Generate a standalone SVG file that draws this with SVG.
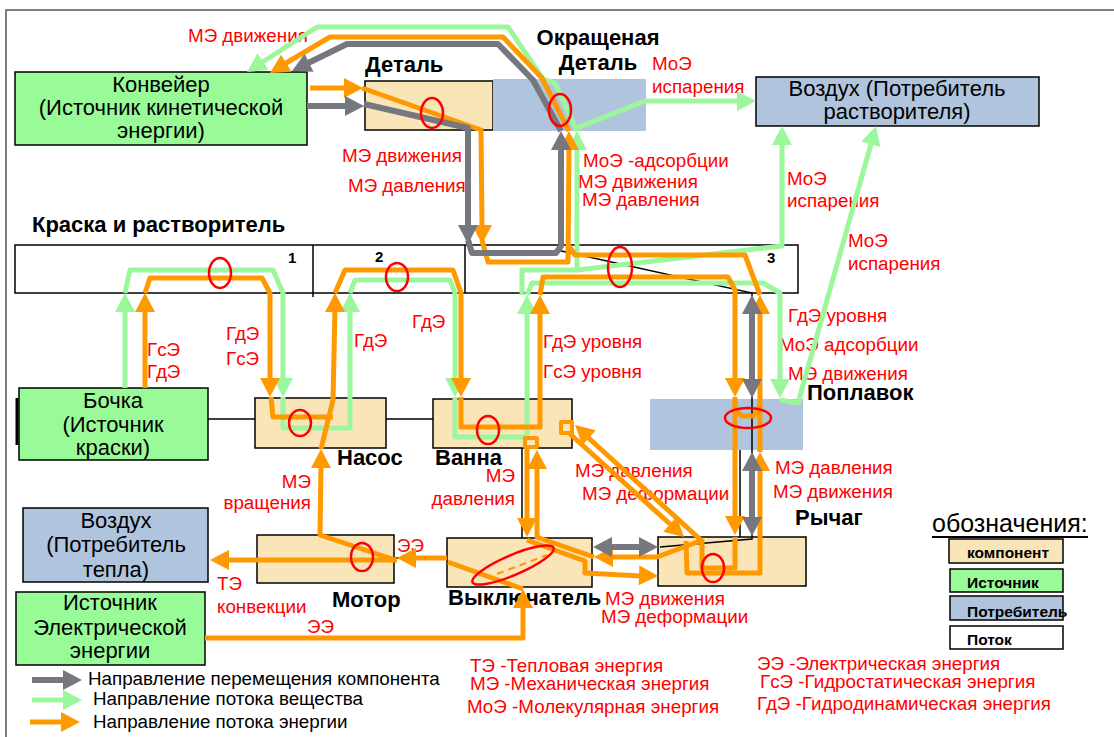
<svg xmlns="http://www.w3.org/2000/svg" width="1114" height="737" viewBox="0 0 1114 737">
<defs>
<style>
text{font-family:"Liberation Sans",Arial,sans-serif}
.nt{font-size:22px;fill:#000;text-anchor:middle}
.b{font-size:22px;font-weight:bold;fill:#000}
.bc{font-size:22px;font-weight:bold;fill:#000;text-anchor:middle}
.num{font-size:15px;font-weight:bold;fill:#000}
.r{font-size:18.8px;fill:#f00}
.re{font-size:18.8px;fill:#f00;text-anchor:end}
.lg{font-size:18.8px;fill:#000}
.lb{font-size:15.5px;font-weight:bold;fill:#000}
.comp{fill:#F9E5B8;stroke:#000;stroke-width:1.5}
.src{fill:#98FB98;stroke:#000;stroke-width:1.5}
.cons{fill:#B0C4DE;stroke:#000;stroke-width:1.5}
.flow{fill:#fff;stroke:#000;stroke-width:1.5}
.o{fill:none;stroke:#FF9900;stroke-width:5;stroke-linejoin:round}
.g{fill:none;stroke:#9CF79C;stroke-width:5;stroke-linejoin:round}
.k{fill:none;stroke:#77777F;stroke-width:6;stroke-linejoin:round}
.thin{fill:none;stroke:#000;stroke-width:1.5}
.oh{fill:#FF9900}
.gh{fill:#9CF79C}
.kh{fill:#77777F}
.el{fill:none;stroke:#f00;stroke-width:2.5}
</style>
<path id="ah" d="M0,0 L-19,-10 L-19,10 Z"/>
</defs>
<rect x="0" y="0" width="1114" height="737" fill="#fff"/>
<rect x="6" y="10" width="1130" height="750" fill="none" stroke="#555" stroke-width="1.5"/>

<g id="nodes">
<g id="konveyer"><rect class="src" x="15" y="72" width="292" height="73"/><text class="nt" x="161" y="92">Конвейер</text><text class="nt" x="161" y="115">(Источник кинетической</text><text class="nt" x="161" y="138">энергии)</text></g>
<g id="detal"><rect class="comp" x="365" y="81" width="128" height="49"/><text class="b" x="365" y="72">Деталь</text></g>
<g id="okr-detal"><rect x="493" y="79" width="153" height="52" fill="#B0C4DE"/><text class="bc" x="598" y="45">Окращеная</text><text class="bc" x="598" y="70">Деталь</text></g>
<g id="vozduh-rastv"><rect class="cons" x="756" y="77" width="283" height="49"/><text class="nt" x="897" y="96">Воздух (Потребитель</text><text class="nt" x="897" y="119">растворителя)</text></g>
<g id="tank"><text class="b" x="32" y="232">Краска и растворитель</text><rect class="flow" x="15" y="245" width="783" height="48"/><line class="thin" x1="313" y1="245" x2="313" y2="297"/><line class="thin" x1="465" y1="245" x2="465" y2="293"/><text class="num" x="288" y="263">1</text><text class="num" x="375" y="262">2</text><text class="num" x="767" y="263">3</text></g>
<g id="bochka"><line x1="17" y1="398" x2="17" y2="445" stroke="#000" stroke-width="3"/><rect class="src" x="19" y="388" width="189" height="72"/><text class="nt" x="113" y="408">Бочка</text><text class="nt" x="113" y="432">(Источник</text><text class="nt" x="113" y="455">краски)</text></g>
<g id="nasos"><rect class="comp" x="255" y="398" width="131" height="50"/><text class="b" x="337" y="465">Насос</text></g>
<g id="vanna"><rect class="comp" x="433" y="399" width="139" height="49"/><text class="b" x="435" y="465">Ванна</text></g>
<g id="poplavok"><rect x="650" y="399" width="153" height="51" fill="#B0C4DE"/><text class="b" x="807" y="400">Поплавок</text></g>
<g id="vozduh-tepla"><rect class="cons" x="23" y="508" width="185" height="74"/><text class="nt" x="116" y="528">Воздух</text><text class="nt" x="116" y="552">(Потребитель</text><text class="nt" x="116" y="577">тепла)</text></g>
<g id="motor"><rect class="comp" x="257" y="535" width="137" height="48"/><text class="b" x="332" y="607">Мотор</text></g>
<g id="vykl"><rect class="comp" x="447" y="538" width="145" height="49"/><text class="b" x="448" y="605">Выключатель</text></g>
<g id="rychag"><rect class="comp" x="658" y="537" width="148" height="49"/><text class="b" x="795" y="525">Рычаг</text></g>
<g id="ist-el"><rect class="src" x="16" y="592" width="189" height="73"/><text class="nt" x="110" y="610">Источник</text><text class="nt" x="110" y="635">Электрической</text><text class="nt" x="110" y="658">энергии</text></g>
<g id="legend"><text x="932" y="532" style="font-size:25px;fill:#000">обозначения:</text><line x1="932" y1="537" x2="1088" y2="537" stroke="#000" stroke-width="2"/>
<rect class="comp" x="949" y="539" width="114" height="24"/><text class="lb" x="967" y="558">компонент</text>
<rect class="src" x="950" y="569" width="113" height="23"/><text class="lb" x="967" y="588">Источник</text>
<rect class="cons" x="950" y="596" width="113" height="24"/><text class="lb" x="967" y="617">Потребитель</text>
<rect class="flow" x="950" y="626" width="113" height="23"/><text class="lb" x="967" y="645">Поток</text></g>
</g>

<g id="labels">
<text class="r" x="188" y="42">МЭ движения</text>
<text class="r" x="652" y="70">МоЭ</text><text class="r" x="652" y="93">испарения</text>
<text class="r" x="342" y="162">МЭ движения</text><text class="r" x="348" y="192">МЭ давления</text>
<text class="r" x="583" y="167">МоЭ -адсорбции</text><text class="r" x="578" y="188">МЭ движения</text><text class="r" x="582" y="206">МЭ давления</text>
<text class="r" x="787" y="185">МоЭ</text><text class="r" x="787" y="207">испарения</text>
<text class="r" x="848" y="247">МоЭ</text><text class="r" x="848" y="270">испарения</text>
<text class="r" x="147" y="356">ГсЭ</text><text class="r" x="147" y="378">ГдЭ</text>
<text class="r" x="226" y="340">ГдЭ</text><text class="r" x="226" y="365">ГсЭ</text>
<text class="r" x="354" y="347">ГдЭ</text>
<text class="r" x="412" y="328">ГдЭ</text>
<text class="r" x="543" y="348">ГдЭ уровня</text><text class="r" x="543" y="378">ГсЭ уровня</text>
<text class="r" x="788" y="322">ГдЭ уровня</text><text class="r" x="779" y="351">МоЭ адсорбции</text><text class="r" x="788" y="380">МЭ движения</text>
<text class="r" x="775" y="474">МЭ давления</text><text class="r" x="773" y="498">МЭ движения</text>
<text class="r" x="575" y="477">МЭ давления</text><text class="r" x="582" y="500">МЭ деформации</text>
<text class="re" x="515" y="482">МЭ</text><text class="re" x="515" y="505">давления</text>
<text class="re" x="311" y="488">МЭ</text><text class="re" x="311" y="509">вращения</text>
<text class="r" x="397" y="552">ЭЭ</text>
<text class="r" x="217" y="590">ТЭ</text><text class="r" x="217" y="613">конвекции</text>
<text class="r" x="307" y="633">ЭЭ</text>
<text class="r" x="605" y="605">МЭ движения</text><text class="r" x="601" y="623">МЭ деформации</text>
<text class="r" x="470" y="672">ТЭ -Тепловая энергия</text>
<text class="r" x="470" y="690">МЭ -Механическая энергия</text>
<text class="r" x="467" y="713">МоЭ -Молекулярная энергия</text>
<text class="r" x="757" y="670">ЭЭ -Электрическая энергия</text>
<text class="r" x="760" y="688">ГсЭ -Гидростатическая энергия</text>
<text class="r" x="757" y="710">ГдЭ -Гидродинамическая энергия</text>
<text class="lg" x="88" y="685">Направление перемещения компонента</text>
<text class="lg" x="93" y="705">Направление потока вещества</text>
<text class="lg" x="93" y="728">Направление потока энергии</text>
</g>

<g id="connectors">
<g id="thin-lines">
<path class="thin" d="M208,419 L255,419 M386,419 L433,419 M394,558 L447,558 M522,448 L522,538 M557,250 L752,293 L752,539 L660,547 M740,450 L740,537"/>
</g>
<g id="green">
<path class="g" d="M125,388 L125,308"/><use href="#ah" class="gh" transform="translate(125,293) rotate(-90)"/>
<path class="g" d="M125,293 L130,270 L273,270 L283,293 L283,382"/><use href="#ah" class="gh" transform="translate(283,397) rotate(90)"/>
<path class="g" d="M283,397 L283,428 L350,428 L350,308"/><use href="#ah" class="gh" transform="translate(350,293) rotate(-90)"/>
<path class="g" d="M350,293 L355,280 L450,280 L455,293 L455,382"/><use href="#ah" class="gh" transform="translate(455,397) rotate(90)"/>
<path class="g" d="M455,397 L455,437 L527,437 L527,310"/><use href="#ah" class="gh" transform="translate(527,295) rotate(-90)"/>
<path class="g" d="M527,295 L532,283 L763,283 L780,293 L780,382"/><use href="#ah" class="gh" transform="translate(780,398) rotate(90)"/>
<path class="g" d="M780,400 L798,403 L871,144"/><use href="#ah" class="gh" transform="translate(876,126) rotate(-74.3)"/>
<path class="g" d="M522,295 L522,270 L577,270 L577,148"/><use href="#ah" class="gh" transform="translate(577,131) rotate(-90)"/>
<path class="g" d="M577,131 L555,83 L543,79 L508,27 L317,27 L258,65"/><use href="#ah" class="gh" transform="translate(247,72) rotate(147)"/>
<path class="g" d="M577,128 L645,101 L740,101"/><use href="#ah" class="gh" transform="translate(756,101)"/>
<path class="g" d="M577,270 L782,246 L782,142"/><use href="#ah" class="gh" transform="translate(782,126) rotate(-90)"/>
<path class="g" d="M32,700 L66,700"/><use href="#ah" class="gh" transform="translate(82,700)"/>
</g>
<g id="orange">
<path class="o" d="M310,88 L347,88"/><use href="#ah" class="oh" transform="translate(363,88)"/>
<path class="o" d="M362,88 L481,130 L482,228"/><use href="#ah" class="oh" transform="translate(482,244) rotate(90)"/>
<path class="o" d="M482,240 L488,262 L568,262 L569,147"/><use href="#ah" class="oh" transform="translate(569,131) rotate(-90)"/>
<path class="o" d="M569,131 L542,78 L503,37 L330,37 L281,66"/><use href="#ah" class="oh" transform="translate(270,73) rotate(149)"/>
<path class="o" d="M145,388 L145,308"/><use href="#ah" class="oh" transform="translate(145,293) rotate(-90)"/>
<path class="o" d="M145,293 L150,278 L262,278 L270,293 L270,382"/><use href="#ah" class="oh" transform="translate(270,397) rotate(90)"/>
<path class="o" d="M271,397 L273,417 L333,417"/>
<path class="o" d="M205,638 L523,638 L523,604"/><use href="#ah" class="oh" transform="translate(523,589) rotate(-90)"/>
<path class="o" d="M523,589 L448,562"/>
<path class="o" d="M447,558 L413,558"/><use href="#ah" class="oh" transform="translate(397,558) rotate(180)"/>
<path class="o" d="M397,560 L226,560"/><use href="#ah" class="oh" transform="translate(210,560) rotate(180)"/>
<path class="o" d="M395,560 L320,535 L321,464"/><use href="#ah" class="oh" transform="translate(321,449) rotate(-90)"/>
<path class="o" d="M321,449 L333,400 L335,308"/><use href="#ah" class="oh" transform="translate(335,293) rotate(-90)"/>
<path class="o" d="M335,293 L345,270 L453,270 L461,293 L461,382"/><use href="#ah" class="oh" transform="translate(461,397) rotate(90)"/>
<path class="o" d="M461,397 L461,427 L540,427 L540,310"/><use href="#ah" class="oh" transform="translate(540,295) rotate(-90)"/>
<path class="o" d="M540,295 L543,277 L728,277 L735,290 L735,382"/><use href="#ah" class="oh" transform="translate(735,397) rotate(90)"/>
<path class="o" d="M735,399 L735,410 L742,416 L754,416 L760,405"/>
<path class="o" d="M735,397 L735,520"/><use href="#ah" class="oh" transform="translate(735,535) rotate(90)"/>
<path class="o" d="M735,537 L735,568 L702,568 L702,541 L583,433"/><use href="#ah" class="oh" transform="translate(575,425) rotate(-137.8)"/>
<rect x="561" y="422" width="11" height="11" class="o" style="stroke-width:4"/>
<path class="o" d="M570,434 L670,524"/><use href="#ah" class="oh" transform="translate(684,537) rotate(42)"/>
<path class="o" d="M686,541 L687,573 L760,573 L760,468"/><use href="#ah" class="oh" transform="translate(760,452) rotate(-90)"/>
<path class="o" d="M760,452 L760,311"/><use href="#ah" class="oh" transform="translate(760,295) rotate(-90)"/>
<path class="o" d="M760,295 L745,255 L575,255 L569,246"/>
<rect x="525" y="438" width="12" height="9" class="o" style="stroke-width:4"/>
<path class="o" d="M527,447 L527,521"/><use href="#ah" class="oh" transform="translate(527,537) rotate(90)"/>
<path class="o" d="M527,540 L585,561 L585,573 L641,576"/><use href="#ah" class="oh" transform="translate(658,576) rotate(2)"/>
<path class="o" d="M700,541 L657,557 L611,557"/><use href="#ah" class="oh" transform="translate(594,557) rotate(180)"/>
<path class="o" d="M594,557 L545,540 L537,537 L537,466"/><use href="#ah" class="oh" transform="translate(537,450) rotate(-90)"/>
<path class="o" d="M497,574 L547,555" style="stroke-width:2;stroke-dasharray:7,5"/>
<path class="o" d="M30,722 L64,722"/><use href="#ah" class="oh" transform="translate(80,722)"/>
</g>
<g id="gray">
<path class="k" d="M307,106 L347,106"/><use href="#ah" class="kh" transform="translate(364,106)"/>
<path class="k" d="M364,104 L468,128 L468,228"/><use href="#ah" class="kh" transform="translate(468,244) rotate(90)"/>
<path class="k" d="M468,240 L472,253 L556,253 L561,246 L561,147"/><use href="#ah" class="kh" transform="translate(561,131) rotate(-90)"/>
<path class="k" d="M561,131 L533,80 L498,44 L347,44 L302,66"/><use href="#ah" class="kh" transform="translate(292,71) rotate(154)"/>
<path class="k" d="M752,310 L752,382"/><use href="#ah" class="kh" transform="translate(752,295) rotate(-90)"/><use href="#ah" class="kh" transform="translate(752,398) rotate(90)"/>
<path class="k" d="M752,467 L752,520"/><use href="#ah" class="kh" transform="translate(752,452) rotate(-90)"/><use href="#ah" class="kh" transform="translate(752,536) rotate(90)"/>
<path class="k" d="M608,547 L643,547"/><use href="#ah" class="kh" transform="translate(593,547) rotate(180)"/><use href="#ah" class="kh" transform="translate(658,547)"/>
<path class="k" d="M32,680 L66,680"/><use href="#ah" class="kh" transform="translate(82,680)"/>
</g>
</g>

<g id="markers-red">
<ellipse class="el" cx="432" cy="113" rx="11" ry="15"/>
<ellipse class="el" cx="560" cy="110" rx="11" ry="16"/>
<ellipse class="el" cx="220" cy="273" rx="11" ry="15"/>
<ellipse class="el" cx="397" cy="277" rx="11" ry="14"/>
<ellipse class="el" cx="620" cy="267" rx="12" ry="20"/>
<ellipse class="el" cx="300" cy="423" rx="11" ry="13"/>
<ellipse class="el" cx="488" cy="430" rx="11" ry="14"/>
<ellipse class="el" cx="362" cy="557" rx="11" ry="14"/>
<ellipse class="el" cx="513" cy="565" rx="44" ry="10" transform="rotate(-23 513 565)"/>
<ellipse class="el" cx="713" cy="568" rx="11" ry="14"/>
<ellipse class="el" cx="748" cy="418" rx="23" ry="10"/>
</g>
</svg>
